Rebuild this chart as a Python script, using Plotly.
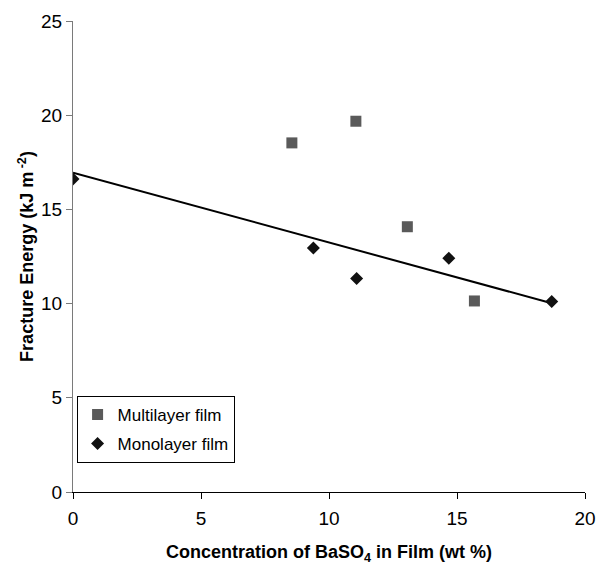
import plotly.graph_objects as go

multi_x = [8.55, 11.05, 13.06, 15.68]
multi_y = [18.53, 19.68, 14.08, 10.14]
mono_x = [0.0, 9.39, 11.08, 14.68, 18.70]
mono_y = [16.62, 12.95, 11.33, 12.41, 10.11]
trend_x = [0.0, 18.70]
trend_y = [16.95, 10.02]
x_ticks = [0, 5, 10, 15, 20]
y_ticks = [0, 5, 10, 15, 20, 25]

FONT = "Liberation Sans, Arial, sans-serif"

fig = go.Figure()
fig.add_trace(go.Scatter(x=trend_x, y=trend_y, mode="lines",
                         line=dict(color="black", width=2), showlegend=False,
                         hoverinfo="skip"))
fig.add_trace(go.Scatter(x=multi_x, y=multi_y, mode="markers", name="Multilayer film",
                         legendgroup="a",
                         marker=dict(symbol="square", size=11, color="#5a5a5a",
                                     line=dict(width=0))))
fig.add_trace(go.Scatter(x=mono_x, y=mono_y, mode="markers", name="Monolayer film",
                         legendgroup="b",
                         marker=dict(symbol="diamond", size=10, color="#111111",
                                     line=dict(width=0))))

fig.update_layout(
    width=597, height=565,
    margin=dict(l=73, r=12, t=21, b=73),
    plot_bgcolor="white", paper_bgcolor="white",
    font=dict(family=FONT, size=19, color="black"),
    legend=dict(x=0.007, y=0.204, xanchor="left", yanchor="top",
                bgcolor="white", bordercolor="black", borderwidth=1,
                font=dict(size=17), tracegroupgap=4, traceorder="grouped",
                itemwidth=30),
    xaxis=dict(range=[0, 20], tickvals=x_ticks, showgrid=False, zeroline=False,
               showline=True, linecolor="black", linewidth=1, automargin=False,
               ticks="outside", ticklen=6, tickcolor="black",
               tickfont=dict(size=19), ticklabelstandoff=3,
               ticklabeloverflow="allow",
               title=dict(text="<b>Concentration of BaSO<sub>4</sub> in Film (wt %)</b>",
                          font=dict(size=18), standoff=18)),
    yaxis=dict(range=[0, 25], tickvals=y_ticks, showgrid=False, zeroline=False,
               showline=True, linecolor="#7a7a7a", linewidth=1, automargin=False,
               ticks="outside", ticklen=6, tickcolor="#7a7a7a",
               tickfont=dict(size=19), ticklabeloverflow="allow",
               title=dict(text="<b>Fracture Energy (kJ m<sup> -2</sup>)</b>",
                          font=dict(size=18), standoff=2)),
)

fig.write_html("out.html", config={"displayModeBar": False},
               post_script="document.body.style.margin='0';")
